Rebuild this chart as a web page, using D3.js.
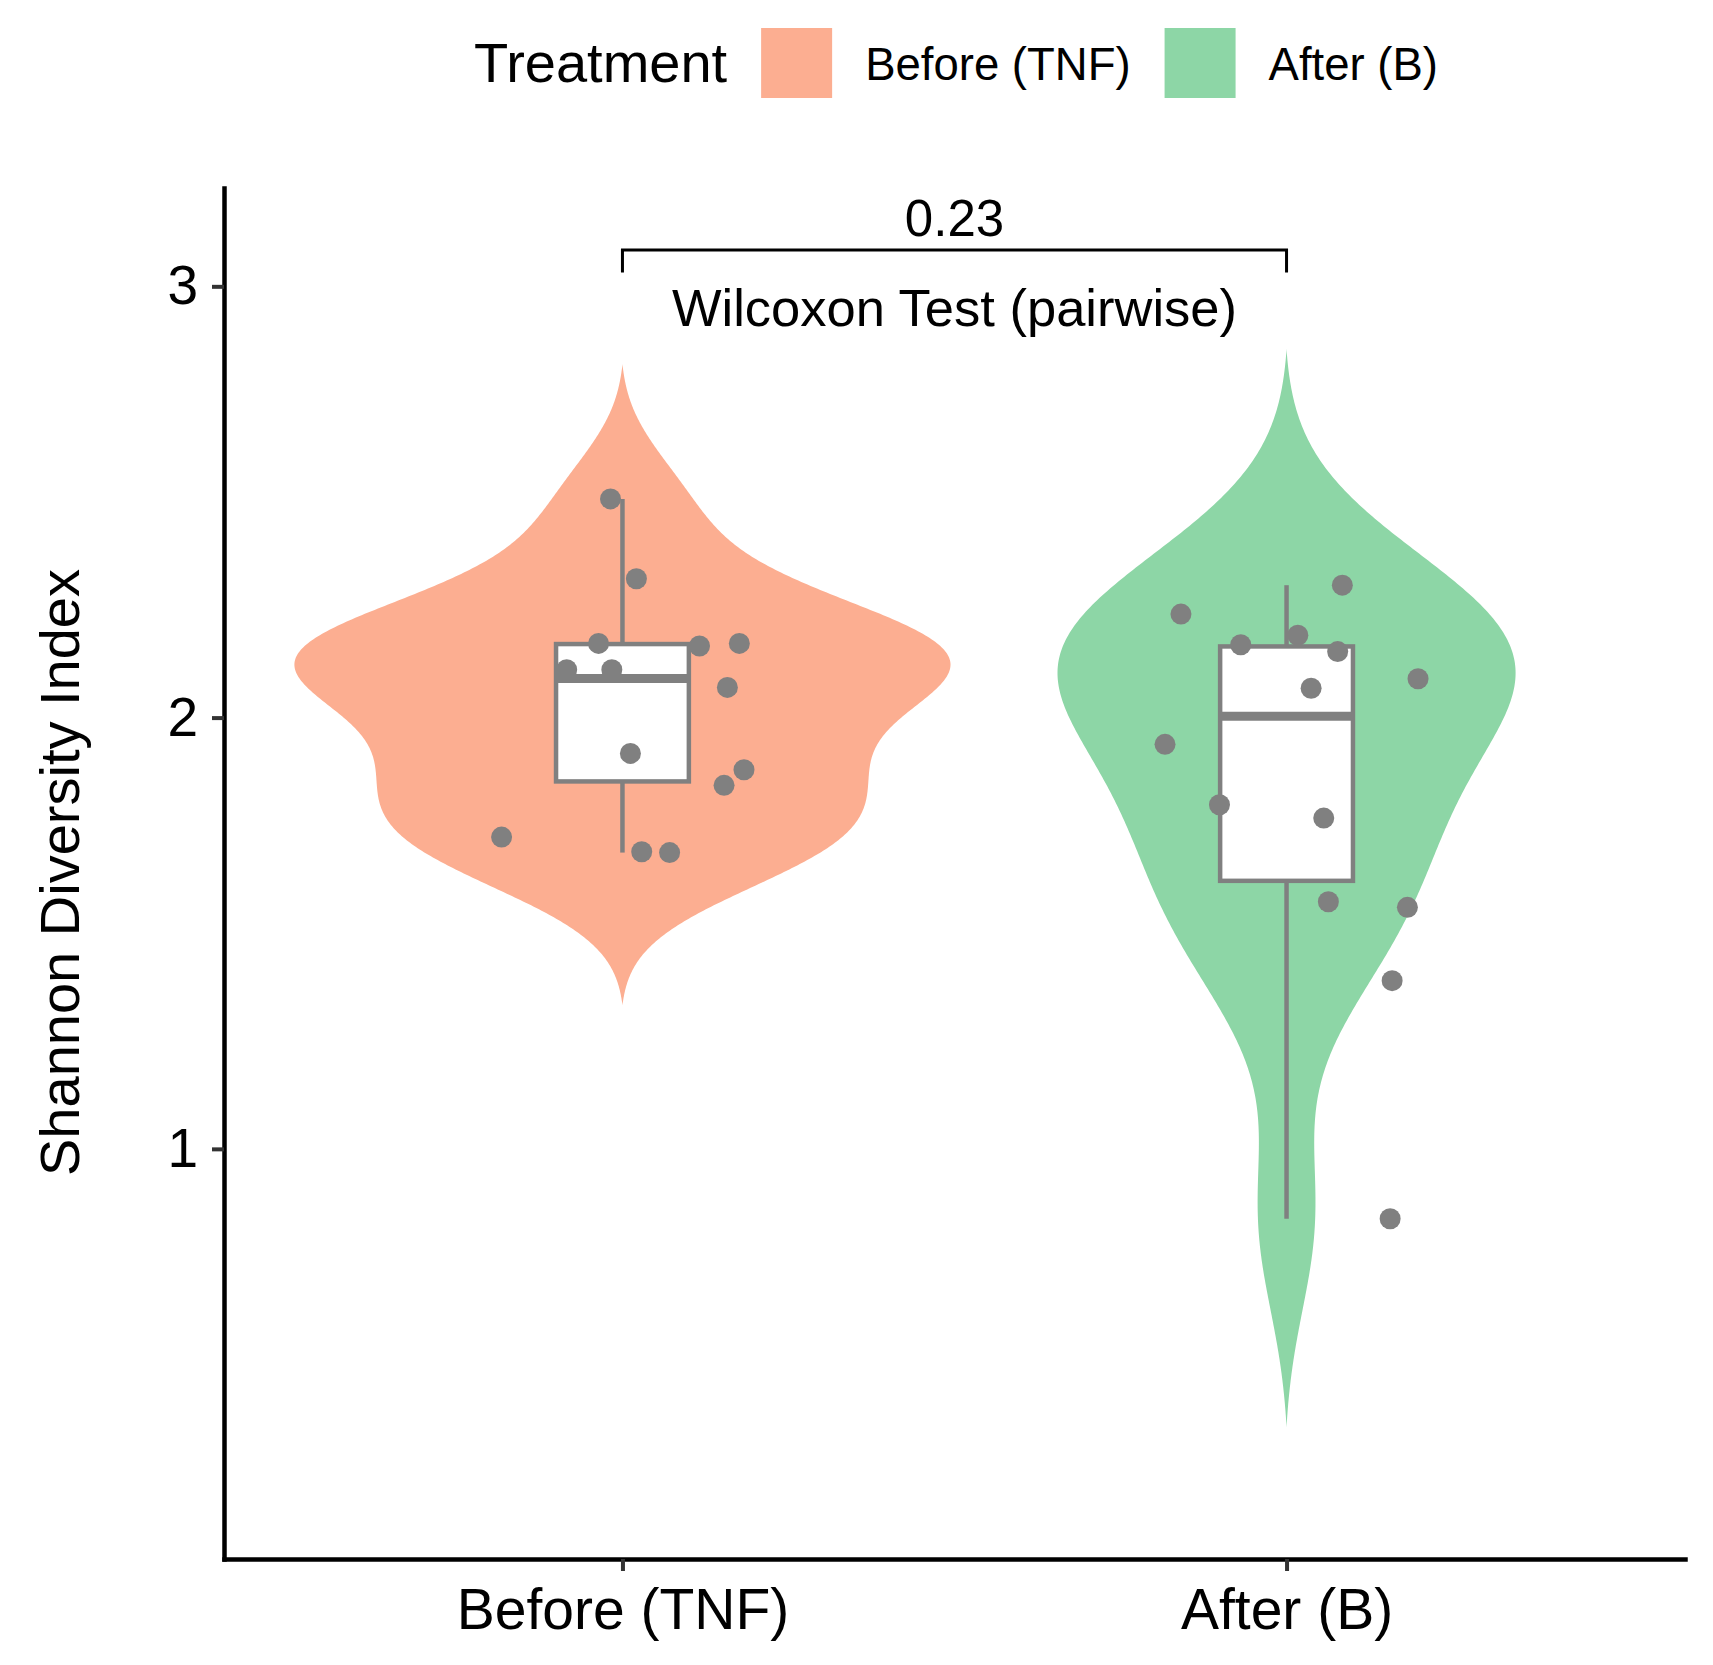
<!DOCTYPE html>
<html>
<head>
<meta charset="utf-8">
<script src="https://cdn.jsdelivr.net/npm/d3@7"></script>
<style>
body { margin: 0; background: #fff; }
text { font-family: "Liberation Sans", Arial, sans-serif; fill: #000; }
</style>
</head>
<body>
<div id="chart-area"></div>
<script>
// data
var groups = ["Before (TNF)", "After (B)"]
var colors = ["#FCAE91", "#8DD6A6"]
var beforeVals = [2.507, 2.322, 2.172, 2.111, 2.111, 2.166, 2.172, 2.070, 1.917, 1.879, 1.843, 1.723, 1.689, 1.687]
var beforeJitter = [-0.018, 0.021, -0.036, -0.084, -0.016, 0.116, 0.176, 0.158, 0.012, 0.183, 0.153, -0.182, 0.029, 0.071]
var afterVals = [2.240, 2.307, 2.169, 2.191, 2.153, 2.090, 2.068, 1.938, 1.798, 1.767, 1.573, 1.560, 1.390, 0.838]
var afterJitter = [-0.159, 0.084, -0.069, 0.017, 0.077, 0.198, 0.037, -0.183, -0.101, 0.056, 0.063, 0.182, 0.159, 0.156]
var yTicks = [1, 2, 3]
var pLabel = "0.23"
var testLabel = "Wilcoxon Test (pairwise)"
var bracket = {y: 3.084, tip: 3.032, pY: 3.116, testY: 2.908}

var cw = 1713, ch = 1665
var m = {l: 224, t: 188, r: 28, b: 106}
var w = cw - m.l - m.r
var h = ch - m.t - m.b

var svg = d3.select("#chart-area").append("svg")
    .attr("width", cw)
    .attr("height", ch)

var g = svg.append("g")
    .attr("transform", "translate(" + m.l + ", " + m.t + ")")

var x = d3.scalePoint()
    .domain(groups)
    .range([0, w])
    .padding(0.6)

var y = d3.scaleLinear()
    .domain([0.049, 3.228])
    .range([h, 0])

var data = [
    {name: groups[0], vals: beforeVals, jit: beforeJitter, color: colors[0]},
    {name: groups[1], vals: afterVals, jit: afterJitter, color: colors[1]}
]

// gaussian kde with R's nrd0 bandwidth, cut = 3
function nrd0(v) {
    var s = v.slice().sort(d3.ascending)
    var iqr = (d3.quantile(s, 0.75) - d3.quantile(s, 0.25)) / 1.34
    return 0.9 * Math.min(d3.deviation(v), iqr) * Math.pow(v.length, -0.2)
}
function kde(v) {
    var bw = nrd0(v)
    var lo = d3.min(v) - 3 * bw, hi = d3.max(v) + 3 * bw
    return d3.range(512).map(i => {
        var t = lo + (hi - lo) * i / 511
        var dens = d3.mean(v, p => Math.exp(-0.5 * Math.pow((t - p) / bw, 2))) / (bw * Math.sqrt(2 * Math.PI))
        return [t, dens]
    })
}

data.forEach(d => {
    var s = d.vals.slice().sort(d3.ascending)
    d.q1 = d3.quantile(s, 0.25)
    d.med = d3.quantile(s, 0.5)
    d.q3 = d3.quantile(s, 0.75)
    var iqr = d.q3 - d.q1
    d.lo = d3.min(s.filter(v => v >= d.q1 - 1.5 * iqr))
    d.hi = d3.max(s.filter(v => v <= d.q3 + 1.5 * iqr))
    d.dens = kde(d.vals)
})

// the hairline tails vanish in the reference, so the outline is pulled in a little
var tail = 2.4
var maxDens = d3.max(data, d => d3.max(d.dens, e => e[1]))
var wScale = d3.scaleLinear()
    .domain([0, maxDens])
    .range([0, 0.494 * x.step() + tail])
var half = e => Math.max(0, wScale(e[1]) - tail)

// violins
data.forEach(d => {
    var cx = x(d.name)
    var pts = d.dens.filter((e, i, a) => half(e) > 0 || (a[i - 1] && half(a[i - 1]) > 0) || (a[i + 1] && half(a[i + 1]) > 0))
    var area = d3.area()
        .y(e => y(e[0]))
        .x0(e => cx - half(e))
        .x1(e => cx + half(e))
    g.append("path")
        .datum(pts)
        .attr("d", area)
        .attr("fill", d.color)
})

// boxplots
var bw = 0.2 * x.step()
var boxCol = "#808080"
data.forEach(d => {
    var cx = x(d.name)
    g.append("line")
        .attr("x1", cx).attr("x2", cx)
        .attr("y1", y(d.q3)).attr("y2", y(d.hi))
        .attr("stroke", boxCol).attr("stroke-width", 4.5)
    g.append("line")
        .attr("x1", cx).attr("x2", cx)
        .attr("y1", y(d.q1)).attr("y2", y(d.lo))
        .attr("stroke", boxCol).attr("stroke-width", 4.5)
    g.append("rect")
        .attr("x", cx - bw / 2)
        .attr("y", y(d.q3))
        .attr("width", bw)
        .attr("height", y(d.q1) - y(d.q3))
        .attr("fill", "#fff")
        .attr("stroke", boxCol)
        .attr("stroke-width", 4.5)
    g.append("line")
        .attr("x1", cx - bw / 2).attr("x2", cx + bw / 2)
        .attr("y1", y(d.med)).attr("y2", y(d.med))
        .attr("stroke", boxCol).attr("stroke-width", 9)
})

// jittered points
data.forEach(d => {
    g.selectAll(null)
        .data(d.vals.map((v, i) => ({v: v, j: d.jit[i]})))
        .enter().append("circle")
            .attr("cx", p => x(d.name) + p.j * x.step())
            .attr("cy", p => y(p.v))
            .attr("r", 10.5)
            .attr("fill", "#808080")
})

// axes
var leftAxis = d3.axisLeft(y)
    .tickValues(yTicks)
    .tickFormat(d3.format("d"))
    .tickSize(12)
    .tickSizeOuter(0)
    .tickPadding(14)

var yg = g.append("g")
    .attr("class", "left axis")
    .call(leftAxis)
yg.select(".domain").attr("stroke", "#000").attr("stroke-width", 4.5).attr("stroke-linecap", "square")
yg.selectAll(".tick line").attr("stroke", "#333").attr("stroke-width", 4)
yg.selectAll(".tick text").attr("font-size", "55px").attr("fill", "#000")

var bottomAxis = d3.axisBottom(x)
    .tickSize(12)
    .tickSizeOuter(0)
    .tickPadding(18)

var xg = g.append("g")
    .attr("class", "bottom axis")
    .attr("transform", "translate(0, " + h + ")")
    .call(bottomAxis)
xg.select(".domain").attr("stroke", "#000").attr("stroke-width", 4.5).attr("stroke-linecap", "square")
xg.selectAll(".tick line").attr("stroke", "#333").attr("stroke-width", 4)
xg.selectAll(".tick text").attr("font-size", "57px").attr("fill", "#000")

svg.selectAll(".axis").attr("font-family", null)

g.append("text")
    .attr("class", "y axis-label")
    .attr("x", -(h / 2) + 1)
    .attr("y", 79 - m.l)
    .attr("font-size", "56px")
    .attr("text-anchor", "middle")
    .attr("transform", "rotate(-90)")
    .text("Shannon Diversity Index")

// significance bracket
var bx1 = x(groups[0]), bx2 = x(groups[1])
g.append("path")
    .attr("d", "M" + bx1 + "," + y(bracket.tip) + "V" + y(bracket.y) + "H" + bx2 + "V" + y(bracket.tip))
    .attr("fill", "none")
    .attr("stroke", "#000")
    .attr("stroke-width", 3)

g.append("text")
    .attr("x", (bx1 + bx2) / 2)
    .attr("y", y(bracket.pY))
    .attr("font-size", "51px")
    .attr("text-anchor", "middle")
    .text(pLabel)

g.append("text")
    .attr("x", (bx1 + bx2) / 2)
    .attr("y", y(bracket.testY))
    .attr("font-size", "52.5px")
    .attr("text-anchor", "middle")
    .text(testLabel)

// legend on top
var leg = svg.append("g").attr("class", "legend")
var title = leg.append("text")
    .attr("x", 474)
    .attr("y", 82)
    .attr("font-size", "56px")
    .text("Treatment")
var cursor = 474 + title.node().getComputedTextLength() + 34
groups.forEach((name, i) => {
    leg.append("rect")
        .attr("x", cursor)
        .attr("y", 28)
        .attr("width", 71)
        .attr("height", 70)
        .attr("fill", colors[i])
    var t = leg.append("text")
        .attr("x", cursor + 71 + 33)
        .attr("y", 80)
        .attr("font-size", "45.5px")
        .text(name)
    cursor = cursor + 71 + 33 + t.node().getComputedTextLength() + 34
})
</script>
</body>
</html>
